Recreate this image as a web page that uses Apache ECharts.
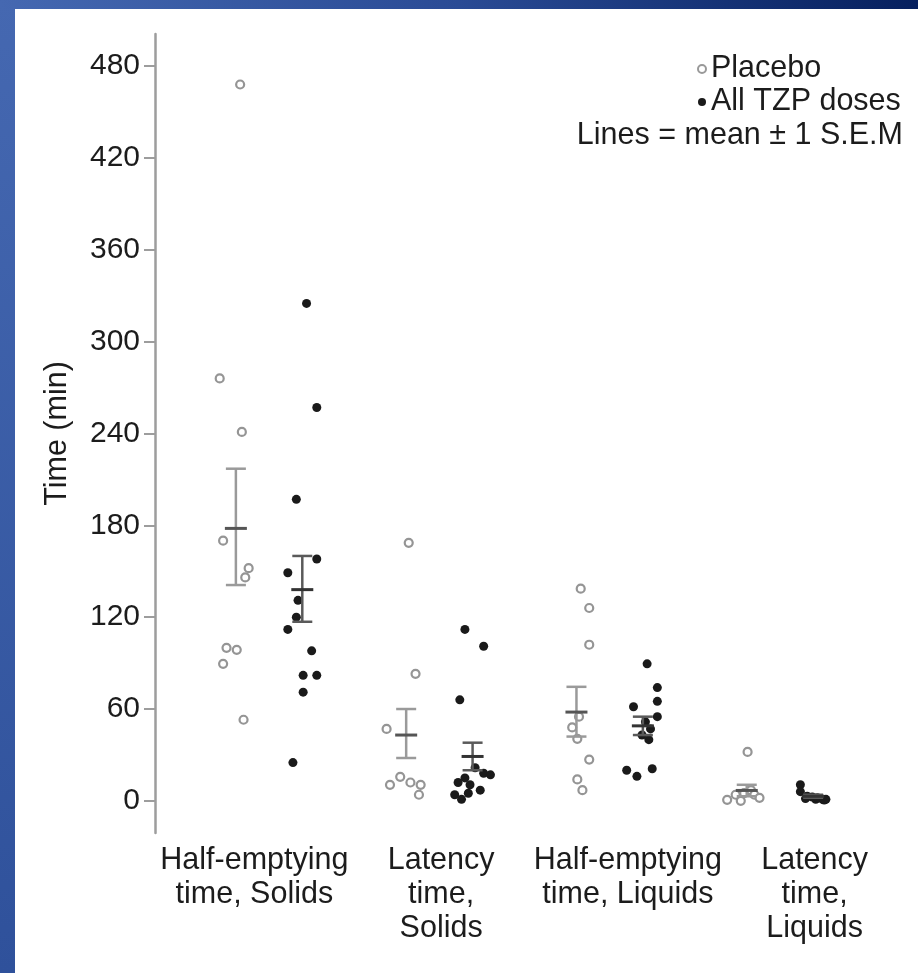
<!DOCTYPE html>
<html>
<head>
<meta charset="utf-8">
<script src="https://cdn.jsdelivr.net/npm/echarts@6/dist/echarts.min.js"></script>
<style>
html,body{margin:0;padding:0;background:#fff;}
#chart{width:918px;height:973px;}
</style>
</head>
<body>
<div id="chart"></div>
<script>
// ---- data ----
const categories = ['Half-emptying\ntime, Solids', 'Latency\ntime,\nSolids', 'Half-emptying\ntime, Liquids', 'Latency\ntime,\nLiquids'];
const yTicks = [0, 60, 120, 180, 240, 300, 360, 420, 480];

const placeboValues = [
  [468, 276, 241, 170, 152, 146, 100, 98.7, 89.5, 53],
  [168.6, 83, 47, 10.5, 15.7, 12, 10.5, 4],
  [138.6, 126, 102, 55, 48, 40.5, 27, 14, 7],
  [32, 0.7, 4, 5, 7, 4, 0, 2]
];
const placeboJitter = [
  [-0.17, -0.29, -0.16, -0.27, -0.12, -0.14, -0.25, -0.19, -0.27, -0.15],
  [-0.18, -0.14, -0.31, -0.29, -0.23, -0.17, -0.11, -0.12],
  [-0.17, -0.12, -0.12, -0.18, -0.22, -0.19, -0.12, -0.19, -0.16],
  [-0.19, -0.31, -0.26, -0.21, -0.17, -0.15, -0.23, -0.12]
];
const tzpValues = [
  [325, 257, 197, 158, 149, 131, 120, 112, 98, 82, 82, 71, 25],
  [112, 101, 66, 21.6, 18, 17, 15, 12, 10.5, 7, 5, 4, 1],
  [89.5, 74, 65, 61.5, 55, 51.6, 43, 40, 20, 16, 21, 47],
  [10.5, 6, 3, 1, 1, 1, 2.5, 2, 1.5, 0.5]
];
const tzpJitter = [
  [0.22, 0.28, 0.16, 0.28, 0.11, 0.17, 0.16, 0.11, 0.25, 0.20, 0.28, 0.20, 0.14],
  [0.15, 0.26, 0.12, 0.21, 0.26, 0.30, 0.15, 0.11, 0.18, 0.24, 0.17, 0.09, 0.13],
  [0.22, 0.28, 0.28, 0.14, 0.28, 0.21, 0.19, 0.23, 0.10, 0.16, 0.25, 0.24],
  [0.12, 0.12, 0.16, 0.21, 0.25, 0.27, 0.19, 0.22, 0.15, 0.26]
];
const placeboMean = [178, 43, 58, 6.8];
const placeboLow  = [141, 28, 42, 3];
const placeboHigh = [217, 60, 74.5, 10.5];
const tzpMean = [138, 29, 49, 3];
const tzpLow  = [117, 20, 43, 2];
const tzpHigh = [160, 38, 55, 4];
const groupOffset = 0.195;

// ---- build ----
function pts(values, jitter) {
  const out = [];
  values.forEach((arr, c) => arr.forEach((v, i) => out.push([c + 1 + jitter[c][i], v])));
  return out;
}
function bars(mean, low, high, sign) {
  return mean.map((m, c) => [c + 1 + sign * groupOffset, m, low[c], high[c]]);
}
function errRender(barColor, meanColor) {
  return function (params, api) {
    const x = api.value(0);
    const pm = api.coord([x, api.value(1)]);
    const pl = api.coord([x, api.value(2)]);
    const ph = api.coord([x, api.value(3)]);
    const hw = 10, mw = 11;
    const st = { stroke: barColor, lineWidth: 2.5 };
    return {
      type: 'group',
      children: [
        { type: 'line', shape: { x1: pm[0], y1: pl[1], x2: pm[0], y2: ph[1] }, style: st },
        { type: 'line', shape: { x1: pm[0] - hw, y1: pl[1], x2: pm[0] + hw, y2: pl[1] }, style: st },
        { type: 'line', shape: { x1: pm[0] - hw, y1: ph[1], x2: pm[0] + hw, y2: ph[1] }, style: st },
        { type: 'line', shape: { x1: pm[0] - mw, y1: pm[1], x2: pm[0] + mw, y2: pm[1] }, style: { stroke: meanColor, lineWidth: 3 } }
      ]
    };
  };
}

const font = 'Liberation Sans, Arial, sans-serif';
const textColor = '#1c1c1c';
const chart = echarts.init(document.getElementById('chart'), null, { renderer: 'canvas' });

chart.setOption({
  backgroundColor: '#ffffff',
  animation: false,
  textStyle: { fontFamily: font },
  graphic: [
    { type: 'rect', left: 0, top: 0, shape: { width: 15, height: 973 }, z: 100,
      style: { fill: new echarts.graphic.LinearGradient(0, 0, 0, 1, [{ offset: 0, color: '#4568b1' }, { offset: 1, color: '#2f519b' }]) } },
    { type: 'rect', left: 0, top: 0, shape: { width: 918, height: 9 }, z: 100,
      style: { fill: new echarts.graphic.LinearGradient(0, 0, 1, 0, [{ offset: 0, color: '#4568b1' }, { offset: 0.5, color: '#2a4b95' }, { offset: 1, color: '#06205e' }]) } }
  ],
  title: {
    text: 'Lines = mean ± 1 S.E.M',
    right: 10, top: 115,
    textStyle: { fontFamily: font, fontSize: 30.5, fontWeight: 'normal', color: textColor }
  },
  legend: {
    orient: 'vertical',
    left: 692, top: 48,
    itemWidth: 8, itemHeight: 8, itemGap: 1,
    textStyle: { fontFamily: font, fontSize: 30.5, color: textColor, lineHeight: 32 },
    data: [
      { name: 'Placebo', icon: 'circle', itemStyle: { color: '#ffffff', borderColor: '#999999', borderWidth: 2 } },
      { name: 'All TZP doses', icon: 'circle', itemStyle: { color: '#1a1a1a', borderWidth: 0 } }
    ]
  },
  grid: [
    { left: 155, right: 10, top: 34, bottom: 140 },
    { left: 161, right: 10, top: 34, bottom: 140 }
  ],
  xAxis: [
    { type: 'value', gridIndex: 0, min: 0.33, max: 4.752, show: false },
    { type: 'category', gridIndex: 1, data: categories,
      axisLine: { show: false }, axisTick: { show: false }, splitLine: { show: false },
      axisLabel: { interval: 0, margin: 11, fontFamily: font, fontSize: 30.5, lineHeight: 34, color: textColor } }
  ],
  yAxis: [
    { type: 'value', gridIndex: 0, min: -21, max: 501,
      name: 'Time (min)', nameLocation: 'middle', nameGap: 82,
      nameTextStyle: { fontFamily: font, fontSize: 30.5, color: textColor },
      axisLine: { show: true, lineStyle: { color: '#9d9d9d', width: 2.5 } },
      axisTick: { show: true, length: 11, customValues: yTicks, lineStyle: { color: '#9d9d9d', width: 2 } },
      axisLabel: { customValues: yTicks, margin: 15, fontFamily: font, fontSize: 30, color: textColor },
      splitLine: { show: false } },
    { type: 'value', gridIndex: 1, min: -21, max: 501, show: false }
  ],
  series: [
    { name: 'Placebo', type: 'scatter', xAxisIndex: 0, yAxisIndex: 0, symbol: 'circle', symbolSize: 8,
      itemStyle: { color: '#ffffff', borderColor: '#959595', borderWidth: 2.2, opacity: 1 },
      data: pts(placeboValues, placeboJitter), z: 3 },
    { name: 'All TZP doses', type: 'scatter', xAxisIndex: 0, yAxisIndex: 0, symbol: 'circle', symbolSize: 9,
      itemStyle: { color: '#1a1a1a', opacity: 1 },
      data: pts(tzpValues, tzpJitter), z: 3 },
    { name: 'placeboSEM', type: 'custom', xAxisIndex: 0, yAxisIndex: 0, z: 4,
      renderItem: errRender('#9a9a9a', '#555555'), data: bars(placeboMean, placeboLow, placeboHigh, -1) },
    { name: 'tzpSEM', type: 'custom', xAxisIndex: 0, yAxisIndex: 0, z: 4,
      renderItem: errRender('#5a5a5a', '#333333'), data: bars(tzpMean, tzpLow, tzpHigh, 1) }
  ]
});
</script>
</body>
</html>
